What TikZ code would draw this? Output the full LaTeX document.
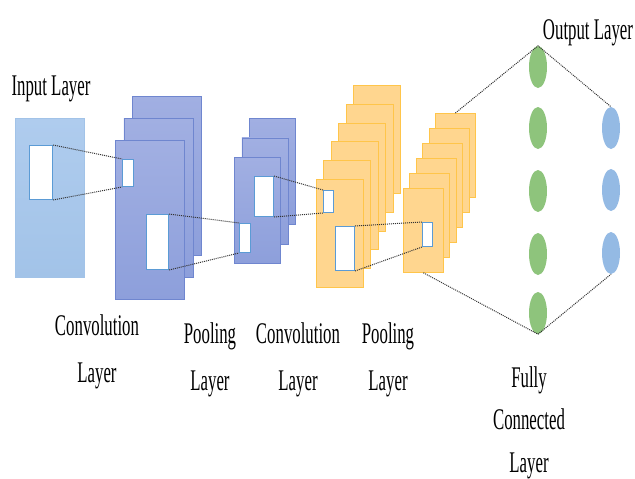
\documentclass[tikz,border=0pt]{standalone}
\usepackage{fontspec}
\setmainfont[FakeStretch=0.56]{Liberation Serif}
\usetikzlibrary{shapes.geometric}

\definecolor{inblue}{HTML}{A2C3E8}
\definecolor{intop}{HTML}{AFCCEE}
\definecolor{convblue}{HTML}{8D9FDB}
\definecolor{convtop}{HTML}{A1AFE2}
\definecolor{convedge}{HTML}{6F86CF}
\definecolor{fmorange}{HTML}{FFD68F}
\definecolor{fmedge}{HTML}{FFC54A}
\definecolor{holeedge}{HTML}{5B9BD5}
\definecolor{fcgreen}{HTML}{8EC47C}
\definecolor{outblue}{HTML}{94BAE4}

\begin{document}
\begin{tikzpicture}[x=1pt, y=-1pt,
    feat/.style 2 args={draw, line width=0.8pt, inner sep=0pt, anchor=north west,
        minimum width=#1, minimum height=#2},
    hole/.style 2 args={feat={#1}{#2}, fill=white, draw=holeedge, line width=1pt},
    bluemap/.style={top color=convtop, bottom color=convblue, draw=convedge},
    link/.style={densely dotted, line width=1pt, black!80},
    unit/.style={ellipse, inner sep=0pt, minimum width=18pt, minimum height=42pt},
    lbl/.style={font=\fontsize{30}{47}\selectfont, align=center, anchor=base, inner sep=0pt}]

    \useasboundingbox (0,0) rectangle (635,479);

    % input image
    \node[feat={69pt}{159pt}, top color=intop, bottom color=inblue, draw=inblue] (in) at (15,118) {};
    \node[hole={23pt}{54pt}] (inw) at (29,145) {};

    % first convolution: three maps, back to front
    \foreach \i in {2,1,0}
        \node[feat={69pt}{159pt}, bluemap] (conv1-\i) at (115+8.5*\i, 140-22*\i) {};
    \node[hole={11pt}{27pt}] (c1s) at (122,159) {};
    \node[hole={22pt}{55pt}] (c1b) at (146,214) {};

    % first pooling
    \foreach \i in {2,1,0}
        \node[feat={46pt}{106pt}, bluemap] (pool1-\i) at (234+7.5*\i, 157-19.5*\i) {};
    \node[hole={11pt}{29pt}] (p1s) at (239,223) {};
    \node[hole={19pt}{40pt}] (p1b) at (254,176) {};

    % second convolution: six maps
    \foreach \i in {5,...,0}
        \node[feat={47pt}{108pt}, fill=fmorange, draw=fmedge] (conv2-\i) at (316+7.4*\i, 179-18.8*\i) {};
    \node[hole={10pt}{22pt}] (c2s) at (323,190) {};
    \node[hole={19pt}{44pt}] (c2b) at (335,226) {};

    % second pooling
    \foreach \i in {5,...,0}
        \node[feat={40pt}{84pt}, fill=fmorange, draw=fmedge] (pool2-\i) at (403+6.4*\i, 188-15*\i) {};
    \node[hole={10pt}{24pt}] (p2s) at (422,222) {};

    % dense and output units
    \foreach \y [count=\k] in {67,128,191,254,313}
        \node[unit, fill=fcgreen] (fc\k) at (538,\y) {};
    \foreach \y [count=\k] in {128,190,253}
        \node[unit, fill=outblue] (out\k) at (611,\y) {};

    % receptive fields
    \draw[link] (inw.north east) -- (c1s.north west);
    \draw[link] (inw.south east) -- (c1s.south west);
    \draw[link] (c1b.north east) -- (p1s.north west);
    \draw[link] (c1b.south east) -- (p1s.south west);
    \draw[link] (p1b.north east) -- (c2s.north west);
    \draw[link] (p1b.south east) -- (c2s.south west);
    \draw[link] (c2b.north east) -- (p2s.north west);
    \draw[link] (c2b.south east) -- (p2s.south west);

    \draw[link] (pool2-5.north) -- (fc1.north) -- (out1.north);
    \draw[link] (pool2-0.south) -- (fc5.south) -- (out3.south);

    % labels (base = last line)
    \node[lbl] (inlbl) at (51,95) {Input Layer};
    \node[lbl] (outlbl) at (588,39) {Output Layer};
    \node[lbl] (c1lbl) at (97,382) {Convolution\\Layer};
    \node[lbl] (p1lbl) at (210,390) {Pooling\\Layer};
    \node[lbl] (c2lbl) at (298,390) {Convolution\\Layer};
    \node[lbl] (p2lbl) at (388,390) {Pooling\\Layer};
    \node[lbl, font=\fontsize{30}{42.5}\selectfont] (fclbl) at (529,472) {Fully\\Connected\\Layer};
\end{tikzpicture}
\end{document}
